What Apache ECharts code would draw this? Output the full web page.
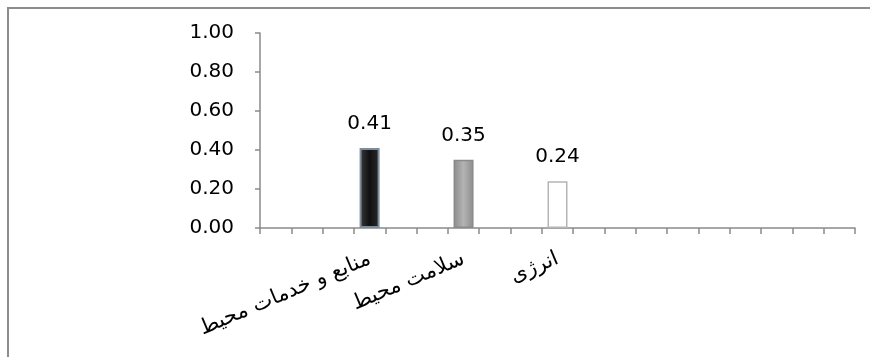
<!DOCTYPE html>
<html>
<head>
<meta charset="utf-8">
<script src="https://cdn.jsdelivr.net/npm/echarts@6/dist/echarts.min.js"></script>
<style>
html,body{margin:0;padding:0;background:#fff;}
#chart{width:870px;height:357px;}
</style>
</head>
<body>
<div id="chart"></div>
<script>
// 19 category slots on the x axis; only three carry values
const categories = ['', '', '', 'منابع و خدمات محیط', '', '', 'سلامت محیط', '', '', 'انرژی', '', '', '', '', '', '', '', '', ''];
const values = [null, null, null, 0.41, null, null, 0.35, null, null, 0.24, null, null, null, null, null, null, null, null, null];
const yTicks = [0, 0.2, 0.4, 0.6, 0.8, 1.0];

const barStyles = {
  3: {
    color: new echarts.graphic.LinearGradient(0, 0, 1, 0, [
      {offset: 0, color: '#3a3a3a'}, {offset: 0.5, color: '#111'}, {offset: 1, color: '#2a2a2a'}
    ]),
    borderColor: '#7d8c9c', borderWidth: 2
  },
  6: {
    color: new echarts.graphic.LinearGradient(0, 0, 1, 0, [
      {offset: 0, color: '#8c8c8c'}, {offset: 0.5, color: '#b3b3b3'}, {offset: 1, color: '#8c8c8c'}
    ]),
    borderColor: '#8a8a8a', borderWidth: 1.5
  },
  9: {
    color: '#ffffff', borderColor: '#b5b5b5', borderWidth: 1.5
  }
};

const seriesData = values.map((v, i) => v === null ? '-' : {value: v, itemStyle: barStyles[i]});

const chart = echarts.init(document.getElementById('chart'), null, {renderer: 'canvas'});
chart.setOption({
  animation: false,
  backgroundColor: '#fff',
  graphic: [{
    type: 'rect',
    shape: {x: 8, y: 8, width: 900, height: 400},
    style: {fill: 'none', stroke: '#8c8c8c', lineWidth: 2},
    silent: true
  }],
  grid: {left: 260, right: 15, top: 33, height: 195, containLabel: false},
  xAxis: {
    type: 'category',
    data: categories,
    boundaryGap: true,
    axisLine: {lineStyle: {color: '#8a8a8a', width: 1.5}},
    axisTick: {show: true, length: 6, lineStyle: {color: '#8a8a8a', width: 1.5}, interval: 0},
    axisLabel: {
      interval: 0, rotate: 23, margin: 30,
      fontFamily: 'DejaVu Sans', fontSize: 21, color: '#000'
    },
    splitLine: {show: false}
  },
  yAxis: {
    type: 'value',
    min: 0, max: 1, interval: 0.2,
    axisLine: {show: true, lineStyle: {color: '#8a8a8a', width: 1.5}},
    axisTick: {show: true, length: 5, lineStyle: {color: '#8a8a8a', width: 1.5}},
    axisLabel: {
      margin: 26, fontFamily: 'DejaVu Sans', fontSize: 20, color: '#000',
      formatter: v => v.toFixed(2)
    },
    splitLine: {show: false}
  },
  series: [{
    type: 'bar',
    data: seriesData,
    barWidth: 20,
    label: {
      show: true, position: 'top', distance: 14,
      fontFamily: 'DejaVu Sans', fontSize: 20, color: '#000',
      formatter: p => p.value.toFixed(2)
    }
  }]
});
</script>
</body>
</html>
